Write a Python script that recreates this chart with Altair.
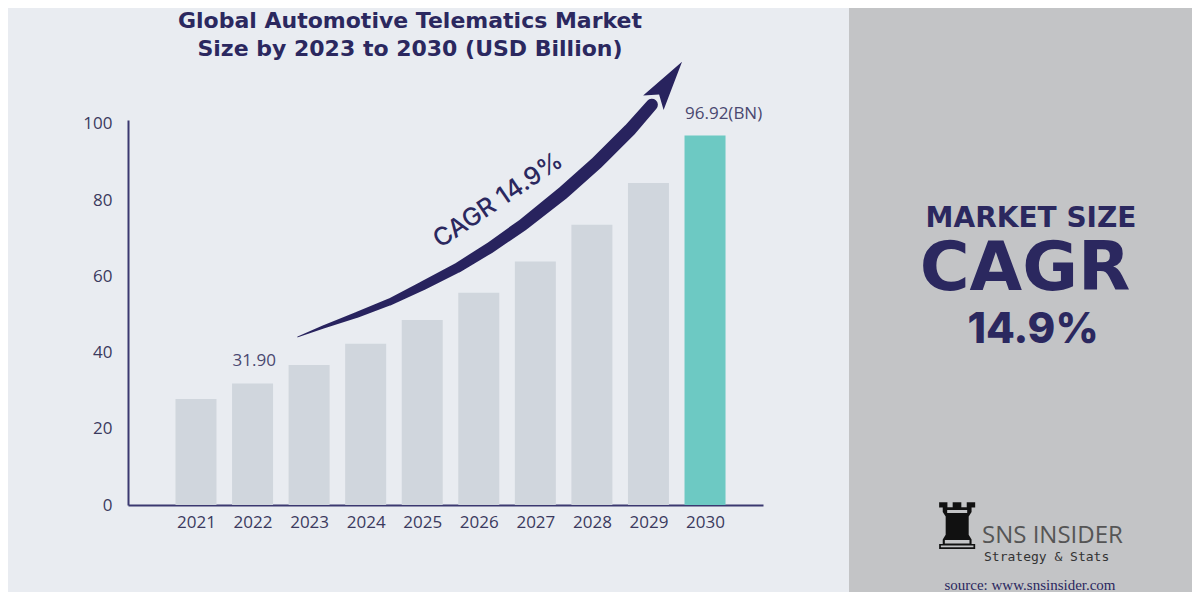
import altair as alt
import pandas as pd

# ---------------- data ----------------
years = [2021, 2022, 2023, 2024, 2025, 2026, 2027, 2028, 2029, 2030]
values = [27.8, 31.9, 36.7, 42.3, 48.5, 55.7, 63.9, 73.5, 84.5, 96.92]
y_ticks = [0, 20, 40, 60, 80, 100]

label_years = [2022, 2030]
label_values = [31.9, 96.92]
label_texts = ["31.90", "96.92(BN)"]

# growth arrow path (data units)
arrow_x = [2022.80, 2023.25, 2023.85, 2024.43, 2025.01, 2025.62,
           2026.20, 2026.78, 2027.49, 2028.09, 2028.67, 2029.06]
arrow_y = [44.1, 46.7, 49.9, 53.3, 57.5, 62.2, 67.5, 73.5, 81.9, 89.8, 98.4, 105.0]
arrow_w = [1, 3, 6, 7, 9, 10, 11, 12, 13, 13, 13, 12]
arrow_head_x = [2029.34]
arrow_head_y = [110.9]

title_lines = ["Global Automotive Telematics Market", "Size by 2023 to 2030 (USD Billion)"]
cagr_label = "CAGR 14.9%"

NAVY = "#2b285f"
AXIS = "#3b3870"
BG = "#e9ecf1"
PANEL = "#c3c4c6"
BAR = "#d0d6dd"
TEAL = "#6dc9c3"
ARROW = "#28235e"

bars_df = pd.DataFrame({"year": years, "value": values})
labels_df = pd.DataFrame({"year": label_years, "value": label_values, "label": label_texts})
arrow_df = pd.DataFrame({"x": arrow_x, "y": arrow_y, "w": arrow_w, "o": list(range(len(arrow_x)))})
head_df = pd.DataFrame({"x": arrow_head_x, "y": arrow_head_y})

xscale = alt.Scale(domain=[2019.798, 2031.025], nice=False, zero=False, padding=0)
yscale = alt.Scale(domain=[0, 101], nice=False, zero=True)

one = pd.DataFrame({"k": [0]})

panel = alt.Chart(one).mark_rect(color=PANEL).encode(
    x=alt.value(721), x2=alt.value(1064), y=alt.value(-112), y2=alt.value(472)
)

bars = alt.Chart(bars_df).mark_bar(size=41).encode(
    x=alt.X("year:Q", scale=xscale,
            axis=alt.Axis(values=years, format="d", title=None, grid=False, ticks=False,
                          domainColor=AXIS, domainWidth=2, labelFontSize=17,
                          labelColor="#3b3a5e", labelPadding=9, labelFont="Open Sans",
                          labelFlush=False)),
    y=alt.Y("value:Q", scale=yscale,
            axis=alt.Axis(values=y_ticks, title=None, grid=False, ticks=False,
                          domainColor=AXIS, domainWidth=2, labelFontSize=17,
                          labelColor="#3b3a5e", labelPadding=16, labelFont="Open Sans")),
    color=alt.condition(alt.datum.year == 2030, alt.value(TEAL), alt.value(BAR)),
)

bar_labels = alt.Chart(labels_df).mark_text(
    align="left", baseline="bottom", dx=-20, dy=-13, fontSize=17,
    font="Open Sans", color="#4a4870"
).encode(x=alt.X("year:Q", scale=xscale), y=alt.Y("value:Q", scale=yscale), text="label:N")

trail = alt.Chart(arrow_df).mark_trail(color=ARROW).encode(
    x=alt.X("x:Q", scale=xscale), y=alt.Y("y:Q", scale=yscale),
    size=alt.Size("w:Q", scale=None, legend=None), order="o:Q"
)

head = alt.Chart(head_df).mark_point(
    shape="M0,-1 L0.5,1 L0,0.6 L-0.5,1 Z", filled=True, opacity=1,
    color=ARROW, size=2500, angle=35
).encode(x=alt.X("x:Q", scale=xscale), y=alt.Y("y:Q", scale=yscale))


def text_layer(txt, x, y, size, weight="normal", color=NAVY, font="Inter",
               align="center", baseline="alphabetic", angle=0):
    kw = dict(align=align, baseline=baseline, fontSize=size, fontWeight=weight,
              color=color, font=font)
    if angle:
        kw["angle"] = angle
    return alt.Chart(pd.DataFrame({"t": [txt]})).mark_text(**kw).encode(
        x=alt.value(x), y=alt.value(y), text="t:N"
    )


title1 = text_layer(title_lines[0], 282, -92, 22, weight="bold", font="DejaVu Sans")
title2 = text_layer(title_lines[1], 282, -64, 22, weight="bold", font="DejaVu Sans")
cagr_arc = text_layer(cagr_label, 370, 80, 25, weight=500, baseline="middle", angle=326)

market = text_layer("MARKET SIZE", 903, 107, 28, weight="bold", font="DejaVu Sans")
cagr_big = text_layer("CAGR", 897, 170, 68, weight="bold", font="DejaVu Sans")
pct = text_layer("14.9%", 905, 223, 42, weight=800)

rook = text_layer("♜", 829, 410, 64, color="#111111", font="DejaVu Sans", baseline="middle")
sns = text_layer("SNS INSIDER", 854, 416, 24, color="#555555", font="Open Sans",
                 align="left", baseline="middle")
strat = text_layer("Strategy & Stats", 856, 437, 13, color="#333333",
                   font="DejaVu Sans Mono", align="left", baseline="middle")
source = text_layer("source: www.snsinsider.com", 902, 465, 15, color=NAVY,
                    font="Liberation Serif", baseline="middle")

chart = alt.layer(
    panel, bars, bar_labels, trail, head, title1, title2, cagr_arc,
    market, cagr_big, pct, rook, sns, strat, source
).properties(
    width=635, height=385,
    autosize=alt.AutoSizeParams(type="none"),
    padding={"left": 120, "top": 112, "right": 429, "bottom": 87},
).configure(background=BG).configure_view(stroke=None)

chart.save("out.html", embed_options={"renderer": "svg", "actions": False})
